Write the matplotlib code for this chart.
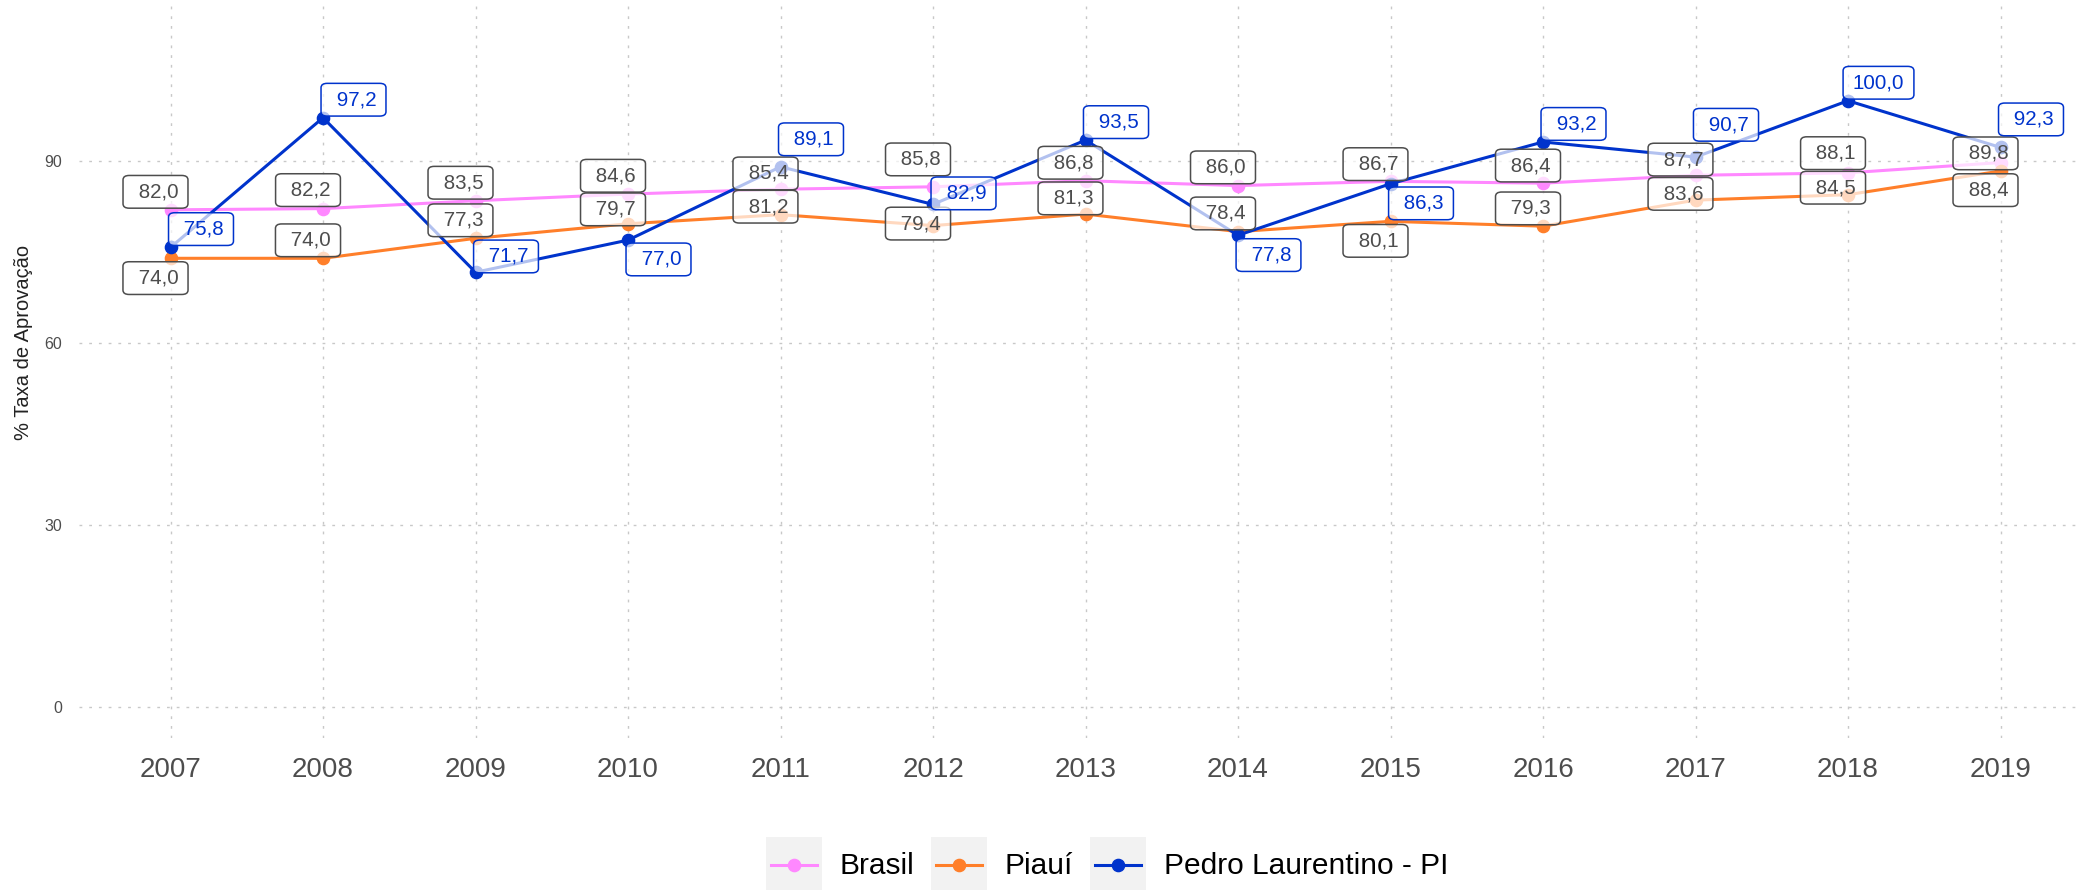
import numpy as np
import matplotlib
matplotlib.use("Agg")
import matplotlib.pyplot as plt
from matplotlib.legend_handler import HandlerLine2D
from matplotlib.lines import Line2D
from matplotlib.patches import Rectangle

plt.rcParams['font.family'] = ['Liberation Sans', 'DejaVu Sans']

# taxa de aprovação (%) por ano
years = [2007, 2008, 2009, 2010, 2011, 2012, 2013, 2014, 2015, 2016, 2017, 2018, 2019]
brasil = [82.0, 82.2, 83.5, 84.6, 85.4, 85.8, 86.8, 86.0, 86.7, 86.4, 87.7, 88.1, 89.8]
piaui = [74.0, 74.0, 77.3, 79.7, 81.2, 79.4, 81.3, 78.4, 80.1, 79.3, 83.6, 84.5, 88.4]
pedro = [75.8, 97.2, 71.7, 77.0, 89.1, 82.9, 93.5, 77.8, 86.3, 93.2, 90.7, 100.0, 92.3]
series_names = ["Brasil", "Piauí", "Pedro Laurentino - PI"]
y_ticks = [0, 30, 60, 90]

PINK = "#ff88ff"
ORANGE = "#ff7f2a"
BLUE = "#0033cc"
GRAY = "#4d4d4d"

# label placement (pixel offsets from each point, repel-style)
label_dx = {"Brasil": -15, "Piauí": -15, "Pedro Laurentino - PI": 30.5}
label_dy = {
    "Brasil": [-18, -18.5, -18, -18.3, -15.8, -27.4, -18, -18.2, -17.2, -17.6, -15.7, -19.7, -9.2],
    "Piauí": [19.8, -18, -18, -14.4, -8, -2, -15.7, -18.2, 19.5, -17.8, -6.3, -7, 19.1],
    "Pedro Laurentino - PI": [-18.3, -18, -15.8, 19.3, -27.5, -11, -18, 19.8, 19.6, -18, -32.3, -18, -28],
}

DPI = 100
W, H = 2080, 890
fig = plt.figure(figsize=(W / DPI, H / DPI), dpi=DPI)
ax = fig.add_axes([79 / W, 1 - 738 / H, (2092 - 79) / W, (738 - 5) / H])

ax.set_xlim(2006.4, 2019.6)
ax.set_ylim(-5.16, 115.8)

for s in ax.spines.values():
    s.set_visible(False)
ax.set_xticks(years)
ax.set_yticks(y_ticks)
ax.tick_params(axis='both', length=0)
ax.tick_params(axis='x', labelsize=20, labelcolor=GRAY, pad=13.5)
ax.tick_params(axis='y', labelsize=11.5, labelcolor=GRAY, pad=12)
ax.grid(True, color="#c8c8c8", linewidth=1.0, linestyle=(0, (2, 5)))
ax.set_axisbelow(True)

data = [brasil, piaui, pedro]
colors = [PINK, ORANGE, BLUE]
handles = []
for name, vals, c in zip(series_names, data, colors):
    ln, = ax.plot(years, vals, color=c, lw=2.2, marker='o', ms=8.8,
                  label=name, zorder=3)
    handles.append(ln)


def fmt(v):
    return f"{v:5.1f}".replace('.', ',')


for name, vals, c in zip(series_names, data, colors):
    is_city = name == "Pedro Laurentino - PI"
    txt_color = BLUE if is_city else GRAY
    for x, v, dy in zip(years, vals, label_dy[name]):
        ax.annotate(fmt(v), xy=(x, v),
                    xytext=(label_dx[name] * 72 / DPI, -dy * 72 / DPI),
                    textcoords='offset points', ha='center', va='center',
                    fontsize=14.8, color=txt_color, zorder=6 if is_city else 5,
                    bbox=dict(boxstyle='round,pad=0.47,rounding_size=0.3',
                              fc=(1, 1, 1, 0.7), ec=txt_color, lw=1.1,
                              mutation_aspect=0.71))

fig.text(24 / W, 1 - 342 / H, "% Taxa de Aprovação", rotation=90,
         ha='center', va='center', fontsize=14.5, color="#222222")


class BoxedKey(HandlerLine2D):
    """Line + marker key drawn over a light grey square."""

    def create_artists(self, legend, orig_handle, xdescent, ydescent,
                       width, height, fontsize, trans):
        bg = Rectangle((-xdescent, -ydescent), width, height,
                       facecolor="#f2f2f2", edgecolor='none', transform=trans)
        arts = super().create_artists(legend, orig_handle, xdescent, ydescent,
                                      width, height, fontsize, trans)
        inset = 5 * 72 / DPI
        yc = height / 2 - ydescent
        for a in arts:
            if isinstance(a, Line2D):
                n = len(a.get_xdata())
                if n == 3:
                    a.set_xdata(np.linspace(-xdescent + inset, -xdescent + width - inset, 3))
                a.set_ydata(np.full(n, yc))
        return [bg, *arts]


fig.legend(handles=handles, labels=series_names, loc='upper left',
           bbox_to_anchor=(765.7 / W, 1 - 837 / H), ncols=3, frameon=False,
           fontsize=21.5, handlelength=1.88, handleheight=2.51,
           handletextpad=0.6, columnspacing=0.55, borderpad=0,
           borderaxespad=0, numpoints=1,
           handler_map={Line2D: BoxedKey()})

fig.savefig("out.png", dpi=DPI)
